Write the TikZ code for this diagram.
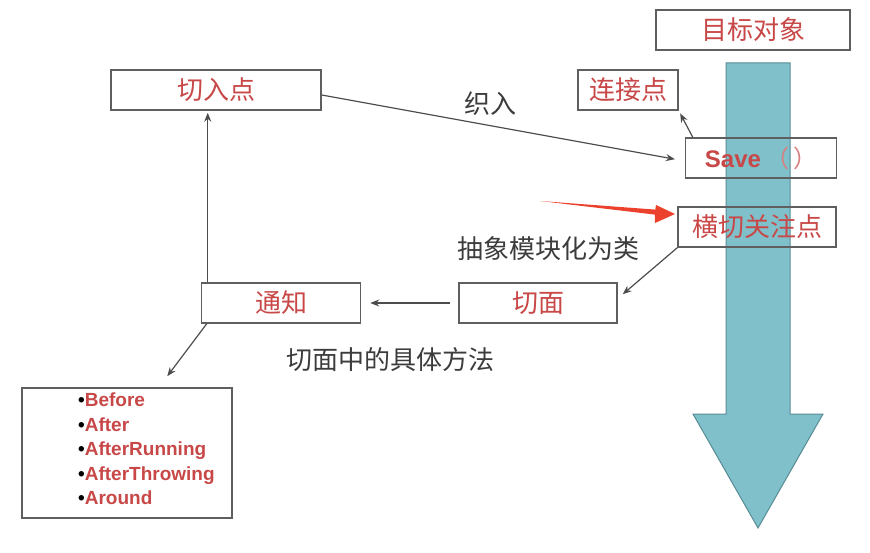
\documentclass[tikz,border=0pt]{standalone}
\usepackage{fontspec}
\setmainfont{Liberation Sans}
\newfontfamily\cjk{Noto Sans CJK SC}
\usetikzlibrary{arrows.meta}
\definecolor{boxtxt}{RGB}{200,72,72}
\definecolor{lbltxt}{RGB}{60,60,60}
\definecolor{boxline}{RGB}{95,95,95}
\definecolor{shaft}{RGB}{128,192,202}
\definecolor{shaftline}{RGB}{88,140,148}
\definecolor{hot}{RGB}{235,65,45}
\tikzset{
  tbox/.style={draw=boxline,line width=1.5pt,minimum height=40pt,inner sep=0pt,text=boxtxt,font=\cjk\fontsize{26}{30}\selectfont},
  lbl/.style={text=lbltxt,font=\cjk\fontsize{26}{30}\selectfont},
  conn/.style={draw=black!70,line width=1.2pt,-{Stealth[length=9pt,width=7pt]}}
}
\begin{document}
\begin{tikzpicture}[x=1pt,y=-1pt]
\useasboundingbox (0,0) rectangle (870,553);
% object flow
\filldraw[fill=shaft,draw=shaftline,line width=1pt] (726,63)--(790,63)--(790,414)--(823,414)--(758,528)--(693,414)--(726,414)--cycle;
\node[tbox,fill=white,minimum width=194pt] (goal) at (753,30){目标对象};
\node[tbox,minimum width=100pt] (joinpt) at (628,90){连接点};
\node[tbox,minimum width=151pt] (save) at (761,158){\fontsize{24}{28}\selectfont\bfseries\rmfamily Save\,\cjk\mdseries\textcolor{boxtxt!70}{（\,）}};
\node[tbox,minimum width=158pt] (concern) at (757,227){横切关注点};
% aspect side
\node[tbox,minimum width=210pt] (pointcut) at (216,90){切入点};
\node[tbox,minimum width=159pt] (advice) at (281,303){通知};
\node[tbox,minimum width=158pt] (aspect) at (538,303){切面};
\node[draw=boxline,line width=1.5pt,minimum width=210pt,minimum height=130pt] (kinds) at (127,453){};
\node[anchor=north west,align=left,inner sep=0pt,font=\fontsize{19}{24.5}\selectfont\bfseries,text=boxtxt] (kindtxt) at (78,393){%
\textcolor{black}{•}Before\\\textcolor{black}{•}After\\\textcolor{black}{•}AfterRunning\\\textcolor{black}{•}AfterThrowing\\\textcolor{black}{•}Around};
\node[lbl] (weave) at (490,104){织入};
\node[lbl] (modular) at (548,249){抽象模块化为类};
\node[lbl] (method) at (390,360){切面中的具体方法};
% connectors
\draw[conn,shorten >=10pt] ([yshift=-5pt]pointcut.east)--([yshift=-3pt]save.west);
\draw[conn,shorten >=3pt] ([xshift=8pt]save.north west)--(joinpt.south east);
\draw[conn,shorten >=2pt] ([xshift=7pt]advice.north west)--([xshift=7pt]advice.north west |- pointcut.south);
\draw[conn,shorten <=8pt,shorten >=9pt] (aspect.west)--(advice.east);
\draw[conn] (concern.south west)--([xshift=5pt,yshift=-12pt]aspect.north east);
\draw[conn] ([xshift=6pt]advice.south west)--([xshift=146pt,yshift=11pt]kinds.north west);
\fill[hot] (540,201)--(655.3,209.6)--(656,205)--(675,214)--(655,223)--(654.9,214.6)--cycle;
\end{tikzpicture}
\end{document}
